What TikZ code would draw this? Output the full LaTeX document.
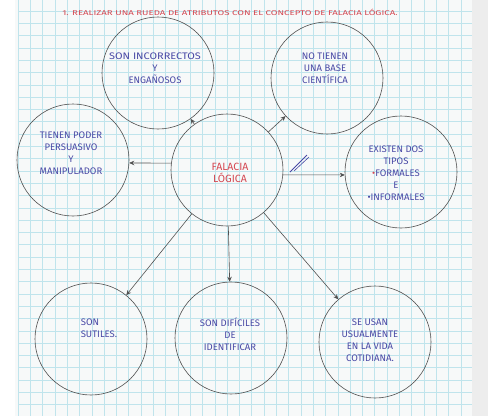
\documentclass[tikz,border=0pt]{standalone}
\usepackage{fontspec}
\setmainfont{Fira Sans}
\usepackage{tikz}
\usetikzlibrary{arrows.meta}

\definecolor{ink}{RGB}{72,72,165}
\definecolor{redink}{RGB}{212,72,82}
\definecolor{pencil}{RGB}{80,80,80}
\definecolor{gridblue}{RGB}{192,228,236}
\definecolor{paper}{RGB}{247,249,249}

\begin{document}
\begin{tikzpicture}[x=1pt, y=-1pt,
  bubble/.style={circle, draw=pencil, line width=0.6pt, inner sep=0pt, minimum size=112pt},
  txt/.style={text=ink, align=center, font=\fontsize{9.5}{12}\selectfont, inner sep=1pt},
  link/.style={draw=pencil, line width=0.6pt, -{Stealth[length=5pt,width=4.5pt]}},
  gridline/.style={draw=gridblue, line width=0.6pt}]

\useasboundingbox (0,0) rectangle (488,416);
\fill[paper] (0,0) rectangle (488,416);
\fill[white] (0,0) rectangle (15,416);
\fill[black!7] (472,0) rectangle (488,416);

% graph paper
\foreach \gx in {18,30.3,...,473}
  \draw[gridline] (\gx,0) -- (\gx,416);
\foreach \gy in {-1.3,11,...,417}
  \draw[gridline] (18,\gy) -- (472,\gy);

\node[text=redink, font=\fontsize{7}{8}\selectfont, inner sep=1pt] (title) at (230,12)
  {\scalebox{1.38}[1]{1. REALIZAR UNA RUEDA DE ATRIBUTOS CON EL CONCEPTO DE FALACIA LÓGICA.}};

% circles
\node[bubble] (fal) at (227,170) {};
\node[bubble] (tl) at (158,73) {};
\node[bubble] (tr) at (327,78) {};
\node[bubble] (lft) at (73,160) {};
\node[bubble] (rgt) at (401,172) {};
\node[bubble] (bl) at (91,339) {};
\node[bubble] (bm) at (231,338) {};
\node[bubble] (br) at (375,342) {};

% texts
\node[txt, text=redink, font=\fontsize{10.5}{12}\selectfont] (faltx) at (230,173) {FALACIA\\LÓGICA};
\node[txt] (tltx) at (155,68) {\scalebox{1.15}[1]{SON INCORRECTOS}\\Y\\ENGAÑOSOS};
\node[txt] (trtx) at (325,68) {NO TIENEN\\UNA BASE\\CIENTÍFICA};
\node[txt] (lfttx) at (71,153) {TIENEN PODER\\PERSUASIVO\\Y\\MANIPULADOR};
\node[txt] (rgttx) at (396,173) {EXISTEN DOS\\TIPOS\\{\color{redink}•}FORMALES\\E\\•INFORMALES};
\node[txt] (bltx) at (90,328) {SON\\\hspace*{18pt}SUTILES.};
\node[txt] (bmtx) at (230,334) {SON DIFÍCILES\\DE\\IDENTIFICAR};
\node[txt] (brtx) at (370,340) {SE USAN\\USUALMENTE\\EN LA VIDA\\COTIDIANA.};

% arrows
\draw[link] (fal) -- (tl);
\draw[link] (fal) -- (tr);
\draw[link] (fal.173) -- (lft.-3);
\draw[link] (fal.-5) -- (rgt.183);
\draw[link] (fal) -- (bl);
\draw[link] (fal) -- (bm);
\draw[link] (fal) -- (br);

% pen mark
\draw[ink, line width=1pt] (290,172) -- (307,155);
\draw[ink, line width=0.6pt] (294,171) -- (309,157);

\end{tikzpicture}
\end{document}
